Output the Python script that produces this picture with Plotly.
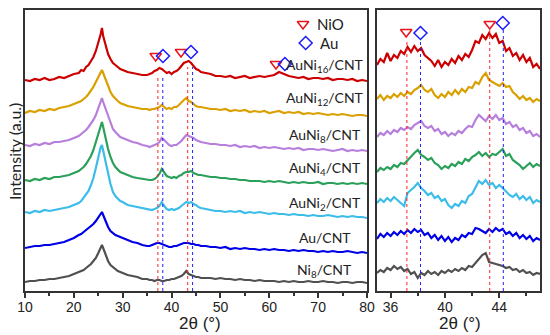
import plotly.graph_objects as go

# ---------------- data ----------------
x_left = [10, 11, 12, 13, 14, 15, 16, 17, 18, 19, 20, 21,
          21.5, 22, 22.5, 23, 23.5, 24, 24.5, 25, 25.5, 25.75, 26, 26.5, 27, 27.5, 28, 28.5, 29, 29.5, 30,
          31, 32, 33, 34, 35,
          35.5, 36, 36.5, 37, 37.5, 38, 38.5, 39, 39.5, 40, 40.5, 41, 41.5, 42, 42.5, 43, 43.5, 44, 44.5, 45, 45.5, 46,
          47, 48, 49, 50, 51, 52, 53, 54, 55, 56, 57, 58, 59, 60, 61, 62, 63, 64, 65, 66, 67, 68, 69, 70,
          71, 72, 73, 74, 75, 76, 77, 78, 79, 80]

x_right = [35.0, 35.25, 35.5, 35.75, 36.0, 36.25, 36.5, 36.75, 37.0, 37.25, 37.5, 37.75,
           38.0, 38.25, 38.5, 38.75, 39.0, 39.25, 39.5, 39.75, 40.0, 40.25, 40.5, 40.75,
           41.0, 41.25, 41.5, 41.75, 42.0, 42.25, 42.5, 42.75, 43.0, 43.25, 43.5, 43.75,
           44.0, 44.25, 44.5, 44.75, 45.0, 45.25, 45.5, 45.75, 46.0, 46.25, 46.5, 46.75, 47.0]

names = ["AuNi<sub>16</sub>/CNT", "AuNi<sub>12</sub>/CNT", "AuNi<sub>8</sub>/CNT",
         "AuNi<sub>4</sub>/CNT", "AuNi<sub>2</sub>/CNT", "Au/CNT", "Ni<sub>8</sub>/CNT"]
colors = ["#cc0000", "#d9a000", "#b77fdc", "#2aa05a", "#3cbde9", "#0000e6", "#505050"]

left_auni16 = [211, 210, 212, 211, 213, 211, 212, 214, 213, 215, 217, 218,
               221, 220, 224, 226, 230, 234, 240, 248, 257, 263, 255, 246, 237, 232, 228, 226, 224, 222, 221,
               219, 218, 217, 216, 216,
               217, 218, 220, 221, 223, 222, 220, 218, 219, 217, 219, 220, 222, 225, 228, 229, 230, 228, 225, 222, 221, 219,
               218, 217, 215, 215, 214, 215, 213, 214, 215, 213, 214, 215, 214, 215, 216, 219, 217, 215, 214, 213, 214, 212,
               213, 213, 212, 213, 211, 212, 212, 211, 212, 210, 211, 210]
left_auni12 = [178, 180, 179, 181, 180, 182, 181, 183, 184, 185, 187, 189,
               190, 192, 194, 197, 200, 204, 209, 214, 219, 221, 218, 212, 205, 199, 195, 192, 190, 188, 187,
               185, 184, 183, 182, 182,
               181, 182, 182, 183, 184, 186, 184, 182, 183, 182, 184, 184, 186, 189, 191, 193, 190, 189, 187, 185, 184, 184,
               183, 182, 182, 181, 182, 180, 181, 180, 181, 179, 180, 179, 180, 178, 179, 180, 178, 179, 178, 179, 177, 178,
               177, 178, 177, 176, 177, 176, 177, 176, 175, 176, 176, 175]
left_auni8 = [146, 145, 147, 146, 148, 147, 149, 149, 150, 151, 153, 155,
              157, 159, 161, 164, 167, 171, 176, 183, 190, 193, 189, 182, 174, 167, 162, 159, 156, 154, 153,
              151, 149, 148, 146, 145,
              144, 145, 146, 147, 149, 153, 151, 148, 146, 145, 146, 146, 148, 150, 153, 156, 155, 154, 153, 151, 150, 149,
              148, 147, 147, 146, 146, 145, 146, 144, 145, 144, 145, 143, 144, 143, 144, 143, 142, 143, 142, 143, 141, 142,
              142, 141, 142, 141, 140, 141, 142, 140, 141, 140, 141, 140]
left_auni4 = [111, 110, 112, 111, 113, 112, 114, 114, 115, 116, 118, 120,
              122, 124, 127, 131, 135, 141, 149, 157, 166, 169, 164, 152, 142, 134, 128, 124, 121, 119, 118,
              116, 114, 113, 112, 111,
              111, 111, 112, 114, 117, 122, 118, 115, 114, 113, 114, 113, 115, 116, 118, 119, 119, 120, 118, 117, 116, 116,
              115, 114, 114, 113, 113, 112, 112, 111, 111, 110, 110, 110, 109, 110, 109, 110, 109, 108, 109, 108, 109, 108,
              108, 109, 107, 108, 108, 107, 108, 107, 108, 107, 108, 107]
left_auni2 = [79, 78, 80, 79, 81, 80, 81, 82, 83, 84, 86, 88,
              90, 93, 96, 100, 106, 113, 123, 134, 144, 146, 141, 131, 118, 107, 99, 95, 92, 90, 89,
              86, 85, 84, 83, 82,
              81, 81, 82, 83, 85, 89, 85, 82, 81, 82, 81, 82, 83, 85, 87, 89, 88, 89, 87, 86, 84, 83,
              82, 81, 80, 80, 79, 80, 79, 80, 78, 79, 78, 79, 78, 77, 78, 77, 77, 76, 77, 76, 76, 75,
              76, 75, 75, 76, 75, 74, 75, 74, 75, 74, 74, 73]
left_au = [43, 44, 45, 45, 46, 46, 47, 48, 49, 51, 53, 56,
           57, 59, 61, 63, 65, 67, 70, 74, 78, 79, 76, 70, 64, 60, 58, 56, 55, 54, 53,
           51, 49, 48, 46, 45,
           45, 46, 47, 48, 48, 47, 46, 45, 44, 44, 45, 45, 46, 47, 48, 48, 48, 47, 47, 46, 46, 45,
           45, 44, 44, 43, 44, 42, 43, 42, 43, 42, 42, 41, 42, 41, 42, 41, 41, 40, 41, 40, 41, 40,
           40, 39, 40, 39, 40, 39, 39, 40, 39, 38, 39, 38]
left_ni8 = [9, 10, 10, 11, 11, 12, 12, 13, 14, 15, 17, 19,
            20, 21, 23, 25, 27, 30, 33, 38, 44, 46, 43, 37, 30, 26, 24, 22, 20, 19, 18,
            16, 15, 14, 12, 12,
            11, 11, 10, 11, 11, 10, 10, 11, 11, 12, 12, 13, 14, 15, 17, 20, 17, 16, 15, 14, 14, 13,
            13, 13, 12, 13, 12, 12, 11, 12, 11, 11, 10, 11, 10, 10, 10, 9, 10, 9, 10, 9, 9, 10,
            9, 9, 10, 9, 9, 8, 9, 9, 8, 9, 9, 8]

right_auni16 = [226, 232, 229, 238, 230, 236, 233, 240, 237, 244, 239, 245, 240, 243, 236, 233, 230, 225,
                231, 224, 229, 226, 232, 228, 235, 231, 237, 234, 241, 250, 248, 256, 252, 258, 253, 257,
                248, 250, 240, 243, 235, 238, 231, 236, 229, 233, 224, 227, 222]
right_auni12 = [192, 196, 191, 195, 193, 197, 194, 198, 195, 199, 197, 201, 203, 206, 201, 199, 202, 196,
                193, 197, 194, 199, 196, 201, 197, 202, 199, 204, 203, 209, 207, 214, 218, 211, 209, 207,
                205, 208, 204, 205, 199, 196, 192, 195, 191, 193, 189, 192, 190]
right_auni8 = [154, 158, 156, 160, 157, 161, 159, 163, 161, 164, 162, 166, 168, 170, 165, 163, 165, 160,
               162, 157, 159, 155, 158, 156, 160, 158, 162, 165, 164, 171, 176, 173, 170, 175, 172, 176,
               171, 173, 167, 169, 164, 166, 161, 163, 158, 160, 155, 157, 154]
right_auni4 = [119, 123, 121, 124, 122, 126, 124, 128, 127, 131, 134, 138, 141, 136, 134, 131, 133, 128,
               126, 122, 125, 123, 127, 125, 129, 127, 132, 130, 134, 136, 139, 135, 138, 134, 137, 136,
               139, 142, 135, 137, 131, 128, 126, 122, 125, 128, 124, 127, 125]
right_auni2 = [88, 92, 89, 93, 90, 94, 91, 88, 85, 98, 101, 104, 108, 103, 100, 96, 98, 93,
               95, 90, 92, 86, 83, 87, 85, 90, 88, 95, 97, 103, 110, 107, 111, 106, 108, 103,
               106, 103, 99, 96, 94, 97, 92, 95, 91, 94, 88, 91, 89]
right_au = [52, 57, 54, 58, 55, 59, 56, 60, 57, 61, 58, 62, 59, 61, 56, 58, 53, 56,
            51, 55, 50, 54, 49, 53, 51, 56, 54, 58, 57, 63, 62, 60, 58, 62, 59, 63,
            60, 62, 57, 59, 55, 58, 53, 56, 52, 55, 50, 53, 51]
right_ni8 = [18, 21, 19, 23, 21, 25, 22, 24, 20, 22, 17, 19, 13, 18, 16, 20, 17, 19,
             16, 20, 18, 21, 19, 22, 20, 23, 21, 25, 24, 28, 31, 36, 38, 29, 28, 27,
             26, 25, 23, 24, 21, 22, 19, 21, 18, 19, 16, 18, 17]

left_series = [left_auni16, left_auni12, left_auni8, left_auni4, left_auni2, left_au, left_ni8]
right_series = [right_auni16, right_auni12, right_auni8, right_auni4, right_auni2, right_au, right_ni8]

# reference peak positions (2theta)
nio_peaks = [37.2, 43.3]
au_peaks = [38.2, 44.3]

# peak-marker positions
nio_mark_left_x = [36.75, 41.93, 61.37]
nio_mark_left_y = [235, 239, 227]
au_mark_left_x = [38.24, 43.97, 63.2]
au_mark_left_y = [235, 239, 227]
nio_mark_right_x = [37.15, 43.3]
nio_mark_right_y = [259, 267]
au_mark_right_x = [38.2, 44.26]
au_mark_right_y = [258, 268]

# label positions
label_x = [79.7, 71.4, 71.4, 71.4, 71.4, 71.4, 71.4]
label_anchor = ["right", "center", "center", "center", "center", "center", "center"]
label_y = [225, 192, 156, 123, 88, 54, 21]

# ---------------- figure ----------------
W, H = 550, 335
fig = go.Figure()

for ys, c in zip(left_series, colors):
    fig.add_trace(go.Scatter(x=x_left, y=ys, mode="lines", line=dict(color=c, width=2.2),
                             xaxis="x", yaxis="y", showlegend=False, hoverinfo="skip"))
for ys, c in zip(right_series, colors):
    fig.add_trace(go.Scatter(x=x_right, y=ys, mode="lines", line=dict(color=c, width=2.2),
                             xaxis="x2", yaxis="y2", showlegend=False, hoverinfo="skip"))

tri = dict(symbol="triangle-down-open", size=10, color="#e8141c", line=dict(width=1.5, color="#e8141c"))
dia = dict(symbol="diamond-open", size=10, color="#1a1aff", line=dict(width=1.5, color="#1a1aff"))

fig.add_trace(go.Scatter(x=nio_mark_left_x, y=nio_mark_left_y, mode="markers", marker=tri,
                         xaxis="x", yaxis="y", showlegend=False, hoverinfo="skip"))
fig.add_trace(go.Scatter(x=au_mark_left_x, y=au_mark_left_y, mode="markers", marker=dia,
                         xaxis="x", yaxis="y", showlegend=False, hoverinfo="skip"))
fig.add_trace(go.Scatter(x=nio_mark_right_x, y=nio_mark_right_y, mode="markers", marker=tri,
                         xaxis="x2", yaxis="y2", showlegend=False, hoverinfo="skip"))
fig.add_trace(go.Scatter(x=au_mark_right_x, y=au_mark_right_y, mode="markers", marker=dia,
                         xaxis="x2", yaxis="y2", showlegend=False, hoverinfo="skip"))
# legend symbols
fig.add_trace(go.Scatter(x=[66.9], y=[267], mode="markers", marker=tri, xaxis="x", yaxis="y",
                         showlegend=False, hoverinfo="skip"))
fig.add_trace(go.Scatter(x=[67.45], y=[248], mode="markers", marker=dia, xaxis="x", yaxis="y",
                         showlegend=False, hoverinfo="skip"))

shapes = []
for xr, yr, tops in (("x", "y", (216, 224)), ("x2", "y2", (250, 262))):
    for i in range(2):
        shapes.append(dict(type="line", xref=xr, yref=yr, x0=nio_peaks[i], x1=nio_peaks[i], y0=0, y1=tops[i],
                           line=dict(color="#ff2020", width=1, dash="dot"), layer="above"))
        shapes.append(dict(type="line", xref=xr, yref=yr, x0=au_peaks[i], x1=au_peaks[i], y0=0, y1=tops[i],
                           line=dict(color="#2020ff", width=1, dash="dot"), layer="above"))

lab_font = dict(family="Lato", size=14, color="#222222")
annotations = []
for nm, lx, la, ly in zip(names, label_x, label_anchor, label_y):
    annotations.append(dict(x=lx, y=ly, xref="x", yref="y", text=nm, showarrow=False,
                            xanchor=la, yanchor="middle", font=lab_font))
annotations.append(dict(x=69.3, y=267, xref="x", yref="y", text="NiO", showarrow=False,
                        xanchor="left", yanchor="middle", font=dict(family="Lato", size=15, color="#222222")))
annotations.append(dict(x=69.9, y=248, xref="x", yref="y", text="Au", showarrow=False,
                        xanchor="left", yanchor="middle", font=dict(family="Lato", size=15, color="#222222")))
annotations.append(dict(x=14 / W, y=1 - 152 / H, xref="paper", yref="paper", text="Intensity (a.u.)",
                        textangle=-90, showarrow=False, xanchor="center", yanchor="middle",
                        font=dict(family="Lato", size=16, color="#222222")))
annotations.append(dict(x=200 / W, y=1 - 323 / H, xref="paper", yref="paper", text="2θ (°)",
                        showarrow=False, xanchor="center", yanchor="middle",
                        font=dict(family="Liberation Sans", size=17, color="#222222")))
annotations.append(dict(x=460 / W, y=1 - 323 / H, xref="paper", yref="paper", text="2θ (°)",
                        showarrow=False, xanchor="center", yanchor="middle",
                        font=dict(family="Liberation Sans", size=17, color="#222222")))

axis_common = dict(showline=True, linecolor="#333333", linewidth=1.6, mirror=True, showgrid=False,
                   zeroline=False, automargin=False)
tickfont = dict(family="Liberation Sans", size=14, color="#222222")

fig.update_layout(
    width=W, height=H, autosize=False,
    margin=dict(l=0, r=0, t=0, b=0, autoexpand=False),
    paper_bgcolor="white", plot_bgcolor="white",
    xaxis=dict(domain=[25 / W, 367 / W], range=[10, 80], tickvals=[10, 20, 30, 40, 50, 60, 70, 80],
               ticks="outside", ticklen=5, tickwidth=1.5, tickcolor="#333333", tickfont=tickfont,
               ticklabelstandoff=-3,
               minor=dict(tickvals=[15, 25, 35, 45, 55, 65, 75], ticks="outside", ticklen=3,
                          tickwidth=1.5, tickcolor="#333333"),
               anchor="y", **axis_common),
    yaxis=dict(domain=[1 - 291 / H, 1 - 10 / H], range=[0, 281], showticklabels=False, ticks="",
               anchor="x", **axis_common),
    xaxis2=dict(domain=[377 / W, 540 / W], range=[35, 47], tickvals=[36, 40, 44],
                ticks="outside", ticklen=5, tickwidth=1.5, tickcolor="#333333", tickfont=tickfont,
                ticklabelstandoff=-3,
                minor=dict(tickvals=[38, 42, 46], ticks="outside", ticklen=3, tickwidth=1.5,
                           tickcolor="#333333"),
                anchor="y2", **axis_common),
    yaxis2=dict(domain=[1 - 291 / H, 1 - 10 / H], range=[0, 281], showticklabels=False, ticks="",
                anchor="x2", **axis_common),
    shapes=shapes,
    annotations=annotations,
)

fig.write_html("out.html", config={"displayModeBar": False},
               post_script="document.body.style.margin='0';document.body.style.padding='0';")
